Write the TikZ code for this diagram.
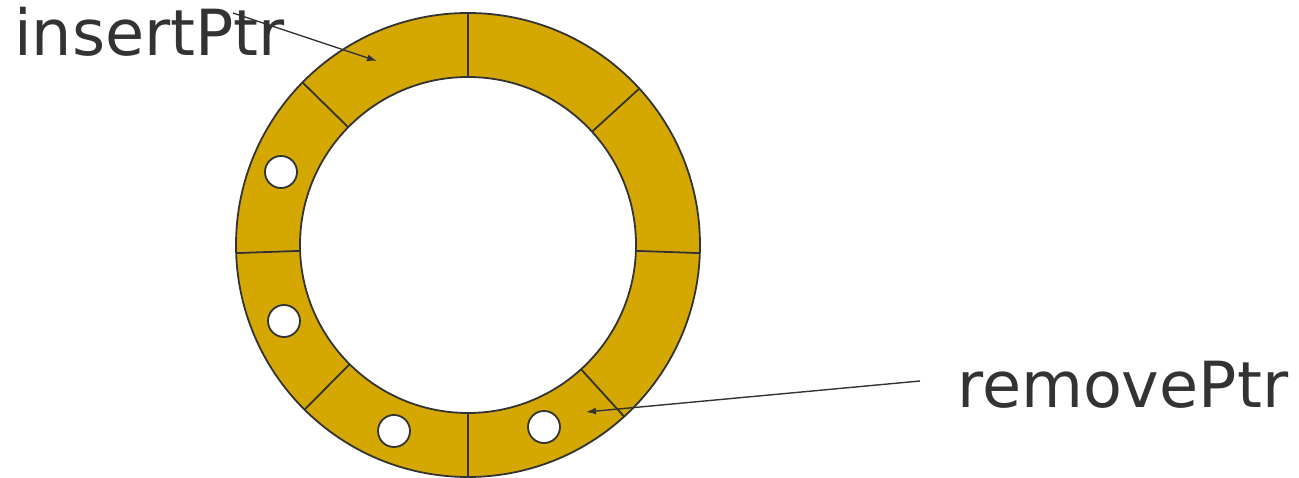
\documentclass[tikz,border=0pt]{standalone}
\usepackage{fontspec}
\setmainfont{DejaVu Sans}
\usepackage{tikz}
\usetikzlibrary{arrows.meta,positioning,calc}
\definecolor{ink}{HTML}{333333}
\definecolor{gold}{HTML}{D4A800}

\tikzset{
  ring line/.style={draw=ink, line width=1.8pt},
  hole/.style={circle, draw=ink, line width=1.8pt, fill=white,
    minimum size=32pt, inner sep=0pt},
  ptr label/.style={text=ink, inner sep=0pt, anchor=base west,
    font=\fontsize{63.6}{70}\selectfont},
  ptr arrow/.style={draw=ink, line width=1.4pt, -{Latex[length=10pt,width=7pt]}}
}

\begin{document}
\begin{tikzpicture}[x=1pt, y=-1pt]
    \useasboundingbox (0,0) rectangle (1299,478);
    \coordinate (c) at (468,245);

    % ring buffer
    \fill[gold, even odd rule] (c) circle (232pt) (c) circle (168pt);
    \draw[ring line] (c) circle (232pt);
    \draw[ring line] (c) circle (168pt);
    \foreach \a in {90,135.5,182,225.2,270,312.3,358,42.4}
      \draw[ring line] ($(c)+(\a:168pt)$) -- ($(c)+(\a:232pt)$);

    % filled slots
    \node[hole] (slotA) at (281,172) {};
    \node[hole] (slotB) at (284,321) {};
    \node[hole] (slotC) at (394,431) {};
    \node[hole] (slotD) at (544,427) {};

    % pointers
    \node[ptr label] (insert) at (14,56) {insertPtr};
    \node[ptr label] (remove) at (957,407) {removePtr};
    \coordinate (insertFrom) at (233,13);
    \coordinate (insertTo) at (377,61);
    \coordinate (removeFrom) at (920,381);
    \coordinate (removeTo) at (586,412);
    \draw[ptr arrow] (insertFrom) -- (insertTo);
    \draw[ptr arrow] (removeFrom) -- (removeTo);
  \end{tikzpicture}
\end{document}
